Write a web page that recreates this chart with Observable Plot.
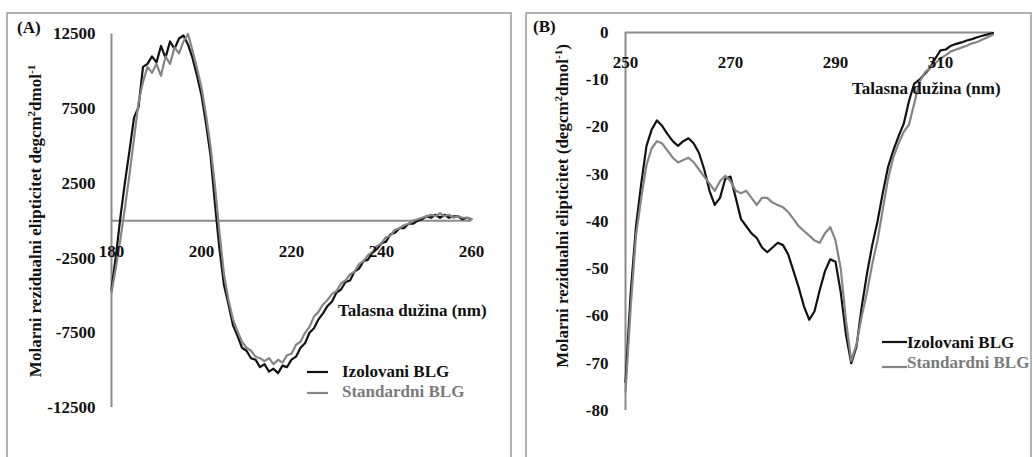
<!DOCTYPE html>
<html><head><meta charset="utf-8">
<script src="https://cdn.jsdelivr.net/npm/d3@7"></script>
<script src="https://cdn.jsdelivr.net/npm/@observablehq/plot@0.6"></script>
<style>
body{margin:0;background:#fff;}
#wrap{position:relative;width:1032px;height:457px;overflow:hidden;background:#fff;}
.panel{position:absolute;}
#overlay{position:absolute;left:0;top:0;pointer-events:none;}
</style></head><body><div id="wrap"></div>
<script>
// ---------- Data ----------
const wavelengthA = d3.range(180, 261); // 180..260 nm
const izolovaniA = [-4600,-2300,300,2600,4700,6900,7600,10300,10500,11000,
  10600,11700,10900,12000,11500,12200,12400,11800,10900,9700,
  8400,6500,4400,1100,-1900,-4300,-5600,-7000,-7700,-8500,
  -8700,-9200,-9300,-9800,-9600,-10100,-9900,-10200,-9700,-9800,
  -9300,-9100,-8500,-8200,-7500,-7200,-6600,-6200,-5700,-5400,
  -4800,-4600,-4100,-4000,-3400,-3200,-2700,-2600,-2100,-1900,
  -1500,-1400,-900,-800,-500,-500,-200,-200,0,100,
  300,200,400,200,400,200,300,300,100,200,100];
const standardniA = [-4800,-3100,-1200,900,3100,5500,7900,9300,10300,9900,
  10500,9700,11000,10500,11600,11200,12000,12500,11400,10200,
  8900,7100,5000,2300,-800,-3600,-5300,-6600,-7400,-8100,
  -8500,-8700,-9100,-9200,-9400,-9200,-9600,-9300,-9500,-9000,
  -8900,-8300,-8100,-7500,-7100,-6400,-6100,-5600,-5300,-4900,
  -4700,-4200,-4000,-3600,-3400,-2900,-2700,-2300,-2100,-1700,
  -1500,-1100,-1000,-600,-500,-300,-200,0,100,200,
  300,400,300,500,300,400,200,300,200,200,100];
const yTicksA = [12500, 7500, 2500, -2500, -7500, -12500];
const xTicksA = [180, 200, 220, 240, 260];

const wavelengthB = d3.range(250, 321); // 250..320 nm
const izolovaniB = [-74,-55,-41,-32,-24,-20.5,-18.6,-19.8,-21.5,-23,
  -24,-23,-22.4,-23.5,-25.5,-29,-33.5,-36.5,-35,-31,
  -30.5,-35,-39.5,-41,-42.5,-43.5,-45.5,-46.5,-45.5,-44.5,
  -45,-47,-50.5,-54,-58,-60.8,-59,-54.5,-50.5,-48,
  -48.5,-55,-64,-70,-66.5,-58,-51,-45,-40,-34,
  -28.5,-25,-22,-19.3,-14.5,-10.8,-10,-8.8,-7.5,-5.5,
  -3.8,-3.6,-2.8,-2.4,-2.1,-1.7,-1.4,-1,-0.7,-0.4,-0.1];
const standardniB = [-76,-58,-43,-35,-28,-24.5,-23,-23.5,-25,-26.5,
  -27.5,-27,-26.5,-27.5,-29,-30.5,-32,-33.5,-31.5,-30.3,
  -31.5,-33.5,-34,-33.5,-35,-36.5,-35,-35,-36,-36.5,
  -37,-38,-39.5,-41,-42,-43,-44,-44.5,-42.5,-41.2,
  -44,-50,-61,-69.5,-66,-60,-55,-49,-44,-37.5,
  -31,-26.5,-23.5,-21,-19.5,-15,-10.5,-8.5,-7.5,-6.5,
  -5.5,-4.8,-4,-3.6,-3.2,-2.8,-2.3,-2,-1.5,-1,-0.5];
const yTicksB = [0, -10, -20, -30, -40, -50, -60, -70, -80];
const xTicksB = [250, 270, 290, 310];

const seriesNames = ["Izolovani BLG", "Standardni BLG"];
const seriesColors = ["#111111", "#858585"];
const xTitle = "Talasna dužina (nm)";

// ---------- Build tables ----------
function tidy(wl, a, b) {
  const rows = [];
  wl.forEach((w, i) => rows.push({wl: w, v: a[i], s: seriesNames[0]}));
  wl.forEach((w, i) => rows.push({wl: w, v: b[i], s: seriesNames[1]}));
  return rows;
}
const dataA = tidy(wavelengthA, izolovaniA, standardniA);
const dataB = tidy(wavelengthB, izolovaniB, standardniB);

const FONT = '"Liberation Serif", "Times New Roman", serif';
const AXIS_GRAY = "#8c8c8c";

function panel(cfg) {
  return Plot.plot({
    width: cfg.width, height: cfg.height,
    marginLeft: cfg.ml, marginRight: cfg.mr, marginTop: cfg.mt, marginBottom: cfg.mb,
    x: {domain: cfg.xDomain, axis: null},
    y: {domain: cfg.yDomain, axis: null},
    color: {domain: seriesNames, range: seriesColors},
    style: {fontFamily: FONT, fontSize: "17px", fontWeight: "bold", background: "transparent", overflow: "visible", color: "#111"},
    marks: [
      Plot.ruleY([0], {stroke: AXIS_GRAY, strokeWidth: 2}),
      Plot.ruleX([cfg.xDomain[0]], {y1: cfg.yDomain[0], y2: cfg.yDomain[1], stroke: AXIS_GRAY, strokeWidth: 2}),
      Plot.line(cfg.data.filter(d => d.s === seriesNames[0]), {x: "wl", y: "v", stroke: "s", strokeWidth: 2.2, curve: "linear"}),
      Plot.line(cfg.data.filter(d => d.s === seriesNames[1]), {x: "wl", y: "v", stroke: "s", strokeWidth: 2.2, curve: "linear"}),
      Plot.axisY(cfg.yTicks, {tickSize: 0, tickPadding: cfg.tickPad, tickFormat: d => String(d), fontSize: 17, fontWeight: "bold", fill: "#111", label: null}),
      Plot.text(cfg.xTicks, {x: d => d, y: 0, dy: 30.5, text: d => String(d), fontSize: 17, fontWeight: "bold", fill: "#111"})
    ]
  });
}

const wrap = document.getElementById("wrap");

const pA = panel({width: 504, height: 442, ml: 104, mr: 40, mt: 20.5, mb: 48,
  xDomain: [180, 260], yDomain: [-12500, 12500], data: dataA,
  yTicks: yTicksA, xTicks: xTicksA, tickPad: 16});
pA.classList.add("panel"); pA.style.left = "7px"; pA.style.top = "13px";
wrap.appendChild(pA);

const pB = panel({width: 505, height: 442, ml: 99, mr: 38.5, mt: 19, mb: 45,
  xDomain: [250, 320], yDomain: [-80, 0], data: dataB,
  yTicks: yTicksB, xTicks: xTicksB, tickPad: 17});
pB.classList.add("panel"); pB.style.left = "526px"; pB.style.top = "13px";
wrap.appendChild(pB);

// ---------- Overlay: frames, titles, legends ----------
const svg = d3.select(wrap).append("svg").attr("id", "overlay")
  .attr("width", 1032).attr("height", 457)
  .style("font-family", FONT).style("font-weight", "bold");

svg.append("rect").attr("x", 7).attr("y", 13).attr("width", 504).attr("height", 470)
  .attr("fill", "none").attr("stroke", "#9a9a9a").attr("stroke-width", 1.5);
svg.append("rect").attr("x", 526).attr("y", 13).attr("width", 505).attr("height", 470)
  .attr("fill", "none").attr("stroke", "#9a9a9a").attr("stroke-width", 1.5);

svg.append("text").attr("x", 17).attr("y", 33).attr("font-size", 17).attr("fill", "#111").text("(A)");
svg.append("text").attr("x", 533).attr("y", 32).attr("font-size", 17).attr("fill", "#111").text("(B)");

function yTitle(x, y, pre, post) {
  const t = svg.append("text").attr("transform", `translate(${x},${y}) rotate(-90)`)
    .attr("text-anchor", "middle").attr("font-size", 17).attr("fill", "#111");
  t.append("tspan").text(pre + "degcm");
  t.append("tspan").attr("dy", -6).attr("font-size", 11).text("2");
  t.append("tspan").attr("dy", 6).text("dmol");
  t.append("tspan").attr("dy", -6).attr("font-size", 11).text("-1");
  t.append("tspan").attr("dy", 6).text(post);
}
yTitle(41, 221, "Molarni rezidualni elipticitet ", "");
yTitle(568, 206, "Molarni rezidualni elipticitet (", ")");

svg.append("text").attr("x", 338).attr("y", 316).attr("font-size", 17).attr("fill", "#111").text(xTitle);
svg.append("text").attr("x", 852).attr("y", 94).attr("font-size", 17).attr("fill", "#111").text(xTitle);

function legend(lx1, lx2, tx, ys, lys) {
  seriesNames.forEach((name, i) => {
    svg.append("line").attr("x1", lx1).attr("x2", lx2).attr("y1", lys[i]).attr("y2", lys[i])
      .attr("stroke", seriesColors[i]).attr("stroke-width", 2.2);
    svg.append("text").attr("x", tx).attr("y", ys[i]).attr("font-size", 17)
      .attr("fill", i === 0 ? "#111" : "#7a7a7a").text(name);
  });
}
legend(307, 328, 342, [377, 397], [372, 393]);
legend(882, 907, 907, [348, 368], [342, 367]);
</script></body></html>
